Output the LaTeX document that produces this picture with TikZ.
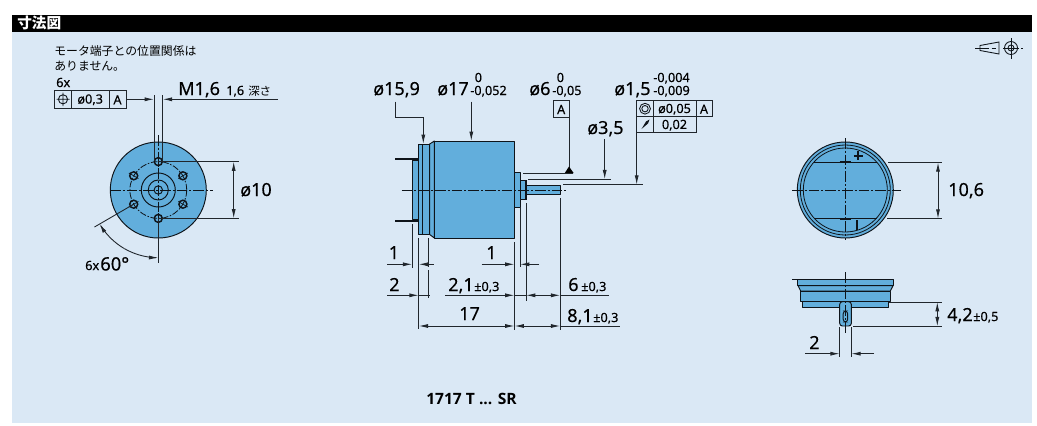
\documentclass[tikz,border=0pt]{standalone}
\usepackage{fontspec}
\setmainfont{Noto Sans}[FakeBold=0.25]
\newfontfamily\jpfont{Noto Sans CJK JP}
\newfontfamily\modelfont{Open Sans}
\usetikzlibrary{arrows.meta}
\definecolor{panel}{HTML}{DAE8F5}
\definecolor{partblue}{HTML}{62AEDC}
\definecolor{ink}{HTML}{0E141A}
\definecolor{dimgray}{HTML}{20262C}
\tikzset{
  x=0.75pt,y=-0.75pt,
  part/.style={draw=ink,fill=partblue,line width=0.72pt,line join=round},
  edge/.style={draw=ink,line width=0.72pt},
  dimline/.style={draw=dimgray,line width=0.66pt},
  ctr/.style={draw=ink,line width=0.6pt,dash pattern=on 8pt off 1.5pt on 1.5pt off 1.5pt},
  arr/.style={-{Latex[length=7pt,width=3pt]}},
  frame/.style={draw=dimgray,line width=0.66pt,fill=panel},
  big/.style={font=\fontsize{13.5}{13.5}\selectfont,text=black,inner sep=0pt,anchor=base west},
  small/.style={font=\fontsize{9.5}{9.5}\selectfont,text=black,inner sep=0pt,anchor=base west},
  tol/.style={font=\fontsize{9.5}{9.5}\selectfont,text=black,inner sep=0pt,anchor=center},
  jp/.style={font=\jpfont\fontsize{8.9}{8.9}\selectfont,text=black,inner sep=0pt,anchor=base west},
}
\begin{document}
\begin{tikzpicture}
\useasboundingbox (0,0) rectangle (1037,425);
\fill[white] (0,0) rectangle (1037,425);
\fill[panel] (12,15) rectangle (1032,423);
\fill[black] (12,15) rectangle (1032,32);

% ---- drawing symbol, top right
\draw[line width=0.65pt,draw=ink] (980,45.5) -- (999,42) -- (999,54) -- (980,50.5) -- cycle;
\draw[line width=0.65pt,draw=ink] (975,48) -- (985,48);
\draw[line width=0.4pt,draw=ink,densely dashed] (985,48) -- (996,48);
\draw[line width=0.65pt,draw=ink] (1011,48) circle (6.5) (1011,48) circle (3);
\draw[line width=0.65pt,draw=ink] (1011,38) -- (1011,59) (1003,48) -- (1019,48);
\draw[line width=0.5pt,draw=ink] (1021,48) -- (1023,48);

% ---- left view
\draw[frame] (54.5,90) rectangle (126,108.5);
\draw[dimline] (71.5,90) -- (71.5,108.5) (109,90) -- (109,108.5);
\draw[line width=0.65pt,draw=ink] (63,99.3) circle (4.6) (56.5,99.3) -- (69.5,99.3) (63,92.5) -- (63,106);
\draw[dimline,arr] (126,99.3) -- (154,99.3);
\draw[dimline,arr] (278,99.3) -- (162.7,99.3);

\draw[part] (158.3,190) circle (48);
\draw[ink,line width=0.6pt,dash pattern=on 5pt off 1.2pt on 1.2pt off 1.2pt] (158.3,190) circle (28.4);
\draw[edge] (158.3,190) circle (17) (158.3,190) circle (10) (158.3,190) circle (4.2);
\foreach \a in {90,30,-30,-90,-150,150}{
  \draw[edge,line width=1.1pt] ({158.3+28.4*cos(\a)},{190-28.4*sin(\a)}) circle (4);
  \draw[ink,line width=0.5pt] ({158.3+23*cos(\a)},{190-23*sin(\a)}) -- ({158.3+34*cos(\a)},{190-34*sin(\a)});
}
\draw[dimline] (154,95) -- (154,161) (162.7,95) -- (162.7,161);
\draw[ctr] (110,190) -- (213,190);
\draw[ctr] (158.3,135) -- (158.3,218);
\draw[dimline] (158.3,161.6) -- (239,161.6) (158.3,218.4) -- (239,218.4);
\draw[dimline,arr] (233.7,190) -- (233.7,161.6);
\draw[dimline,arr] (233.7,190) -- (233.7,218.4);
\draw[dimline] (158.3,218) -- (158.3,262.5);
\draw[dimline] (133.7,204.2) -- (94.5,227);
\draw[dimline,arr,domain=-30:0,samples=16,variable=\t] plot ({158.3+67.7*sin(\t)},{190+67.7*cos(\t)});
\draw[dimline,arr,domain=-30:-60,samples=16,variable=\t] plot ({158.3+67.7*sin(\t)},{190+67.7*cos(\t)});

% ---- middle view
\draw[part] (412.3,160.7) rectangle (418.3,219.3);
\draw[draw=ink,line width=1.5pt] (395,159.3) -- (418,159.3) (395,220.5) -- (418,220.5);
\draw[part] (418.3,144) rectangle (429.7,234.5);
\draw[edge] (422.7,144) -- (422.7,234.5);
\draw[part] (429.7,144) -- (434.3,141) -- (434.3,238) -- (429.7,234.5) -- cycle;
\draw[part] (434.3,141) rectangle (514.4,238);
\draw[part] (514.4,172.3) rectangle (520,207);
\draw[part] (520,180) rectangle (525.5,199.5);
\draw[draw=ink,line width=1.5pt] (526,180) -- (526,199.5);
\draw[part] (526.5,185.3) rectangle (560.3,194);
\draw[ctr] (401.7,190) -- (568,190);

% top dimensions
\draw[dimline,arr] (395.7,101.7) -- (395.7,117.3) -- (423.3,117.3) -- (423.3,144);
\draw[dimline,arr] (471.3,101.7) -- (471.3,141);
\draw[frame] (553.3,100.7) rectangle (569,117.3);
\draw[dimline] (569,117.3) -- (569,168);
\fill[black] (564.8,173) -- (569,166.5) -- (573.6,173) -- cycle;
\draw[dimline] (523.3,173) -- (573.3,173);
\draw[dimline,arr] (604.7,139.3) -- (604.7,179.3);
\draw[dimline] (528.3,179.3) -- (610.7,179.3);
\draw[dimline,arr] (636.7,132.7) -- (636.7,184.7);
\draw[dimline] (563.3,184.7) -- (642.7,184.7);
\draw[frame] (636.7,100.7) rectangle (712,116.7);
\draw[frame] (636.7,116.7) rectangle (696,132.7);
\draw[dimline] (653.3,100.7) -- (653.3,132.7) (696,100.7) -- (696,116.7);
\draw[edge,line width=0.65pt] (645,108.7) circle (5.4) (645,108.7) circle (3.2);
\fill[ink] (641.5,129) -- (646,121.5) -- (649.5,119.5) -- (648,123.5) -- cycle;

% extension lines
\draw[dimline] (412.3,224) -- (412.3,268);
\draw[dimline] (418.7,238) -- (418.7,329);
\draw[dimline,dash pattern=on 22pt off 2pt] (428.9,238) -- (428.9,298);
\draw[dimline] (514.5,242) -- (514.5,330);
\draw[dimline] (520,208) -- (520,267);
\draw[dimline] (526,203) -- (526,300.7);
\draw[dimline] (560.3,198) -- (560.3,330);

% row 1
\draw[dimline,arr] (387,264.3) -- (412.3,264.3);
\draw[dimline,arr] (433.5,264.3) -- (418.7,264.3);
\draw[dimline,arr] (481.7,264.3) -- (514.5,264.3);
\draw[dimline,arr] (539,264.3) -- (520,264.3);
% row 2
\draw[dimline,arr] (387,295.3) -- (418.7,295.3);
\draw[dimline] (418.7,295.3) -- (429.5,295.3);
\draw[dimline,arr] (445,295.3) -- (514.5,295.3);
\draw[dimline] (514.5,295.3) -- (526,295.3);
\draw[dimline,arr] (540,295.3) -- (526,295.3);
\draw[dimline,arr] (540,295.3) -- (560.3,295.3);
\draw[dimline] (560.3,295.3) -- (609.3,295.3);
% row 3
\draw[dimline,arr] (460,326) -- (418.7,326);
\draw[dimline,arr] (460,326) -- (514.5,326);
\draw[dimline,arr] (537,326) -- (514.5,326);
\draw[dimline,arr] (537,326) -- (560.3,326);
\draw[dimline] (560.3,326) -- (620,326);

% ---- right top view
\draw[part] (845.3,190) circle (48);
\draw[edge,line width=0.6pt] (845.3,190) circle (45) (845.3,190) circle (42);
\draw[edge] (813.7,162.3) -- (876.9,162.3) (813.7,218.7) -- (876.9,218.7);
\draw[draw=ink,line width=1.5pt] (839.5,162.3) -- (851,162.3) (839.5,218.7) -- (851,218.7);
\draw[ctr] (792,190) -- (901,190);
\draw[ctr] (845.3,138) -- (845.3,240);
\draw[draw=ink,line width=1.4pt] (853.8,155.7) -- (862.8,155.7) (858.3,151) -- (858.3,160.4);
\draw[draw=ink,line width=1.4pt] (857.3,220) -- (857.3,230);
\draw[dimline] (888,162.3) -- (942,162.3) (887,218.7) -- (942,218.7);
\draw[dimline,arr] (938,190) -- (938,162.3);
\draw[dimline,arr] (938,190) -- (938,218.7);

% ---- right bottom view
\draw[part] (797.3,279) -- (893.7,279) -- (893.7,285.7) -- (797.3,285.7) -- cycle;
\draw[part] (798,285.7) -- (893,285.7) -- (890.3,291) -- (800.7,291) -- cycle;
\draw[part] (800.7,291) rectangle (890.3,301.5);
\draw[part] (802.7,301.5) rectangle (888.7,307.7);
\draw[part,rounded corners=2pt] (839.7,301.7) -- (851.3,301.7) -- (851.3,326) -- (839.7,326) -- cycle;
\draw[edge,rounded corners=2pt] (843.2,311) rectangle (847.6,322);
\draw[ctr] (792,279) -- (892,279);
\draw[ctr] (845.3,272) -- (845.3,333);
\draw[dimline] (888.7,302) -- (941.7,302) (853.3,326.3) -- (942,326.3);
\draw[dimline,arr] (937.3,314) -- (937.3,302);
\draw[dimline,arr] (937.3,314) -- (937.3,326.3);
\draw[dimline] (839.7,327) -- (839.7,357) (851.3,327) -- (851.3,357);
\draw[dimline,arr] (805,353.7) -- (839.7,353.7);
\draw[dimline,arr] (874,353.7) -- (851.3,353.7);

% ---- all texts, drawn last
\node[font=\jpfont\bfseries\fontsize{11}{11}\selectfont,text=white,inner sep=0pt,anchor=base west] (title) at (17,28.5) {寸法図};
\node[jp] (note1) at (54,55.5) {モータ端子との位置関係は};
\node[jp] (note2) at (54,70.5) {ありません。};
\node[small] (sixx) at (56,87) {6x};
\node[tol] (posval) at (90.2,99.8) {ø0,3};
\node[tol] (posA) at (117.5,99.8) {A};
\node[big] (m16) at (178,95) {M1,6};
\node[small] (m16d) at (226,95) {1,6};
\node[jp,font=\jpfont\fontsize{8.6}{8.6}\selectfont] (m16j) at (248,95) {深さ};
\node[big] (d10) at (240,196) {ø10};
\node[small] (sixx2) at (85,270) {6x};
\node[big,font=\fontsize{13.8}{13.8}\selectfont] (ang) at (100,270.5) {60°};
\node[big] (d159) at (373,95) {ø15,9};
\node[big] (d17) at (437,95) {ø17};
\node[small] (d17a) at (474.5,82) {0};
\node[small] (d17b) at (470,95) {-0,052};
\node[big] (d6) at (529,95) {ø6};
\node[small] (d6a) at (556.5,82) {0};
\node[small] (d6b) at (552,95) {-0,05};
\node[big] (d15) at (614,95) {ø1,5};
\node[small] (d15a) at (653,82) {-0,004};
\node[small] (d15b) at (653,95) {-0,009};
\node[big] (d35) at (587,134) {ø3,5};
\node[tol] (dA) at (561.2,109.5) {A};
\node[tol] (cval) at (674.5,109.2) {ø0,05};
\node[tol] (cA) at (704,109.2) {A};
\node[tol] (rval) at (674.5,125.2) {0,02};
\node[big] (one1) at (388.5,259) {1};
\node[big] (one2) at (486,259) {1};
\node[big] (two) at (389,291) {2};
\node[big] (v21) at (448,291) {2,1};
\node[small] (v21t) at (474,291) {±0,3};
\node[big] (v6) at (568,291) {6};
\node[small] (v6t) at (581,291) {±0,3};
\node[big] (v17) at (459,320) {17};
\node[big] (v81) at (567,322) {8,1};
\node[small] (v81t) at (593,322) {±0,3};
\node[big] (v106) at (948,196) {10,6};
\node[big] (v42) at (947,321) {4,2};
\node[small] (v42t) at (973,321) {±0,5};
\node[big] (two2) at (809,349) {2};
\node[font=\modelfont\bfseries\fontsize{11.7}{11.7}\selectfont,text=black,inner sep=0pt,anchor=base west] (model) at (426,404) {1717 T ... SR};
\end{tikzpicture}
\end{document}
